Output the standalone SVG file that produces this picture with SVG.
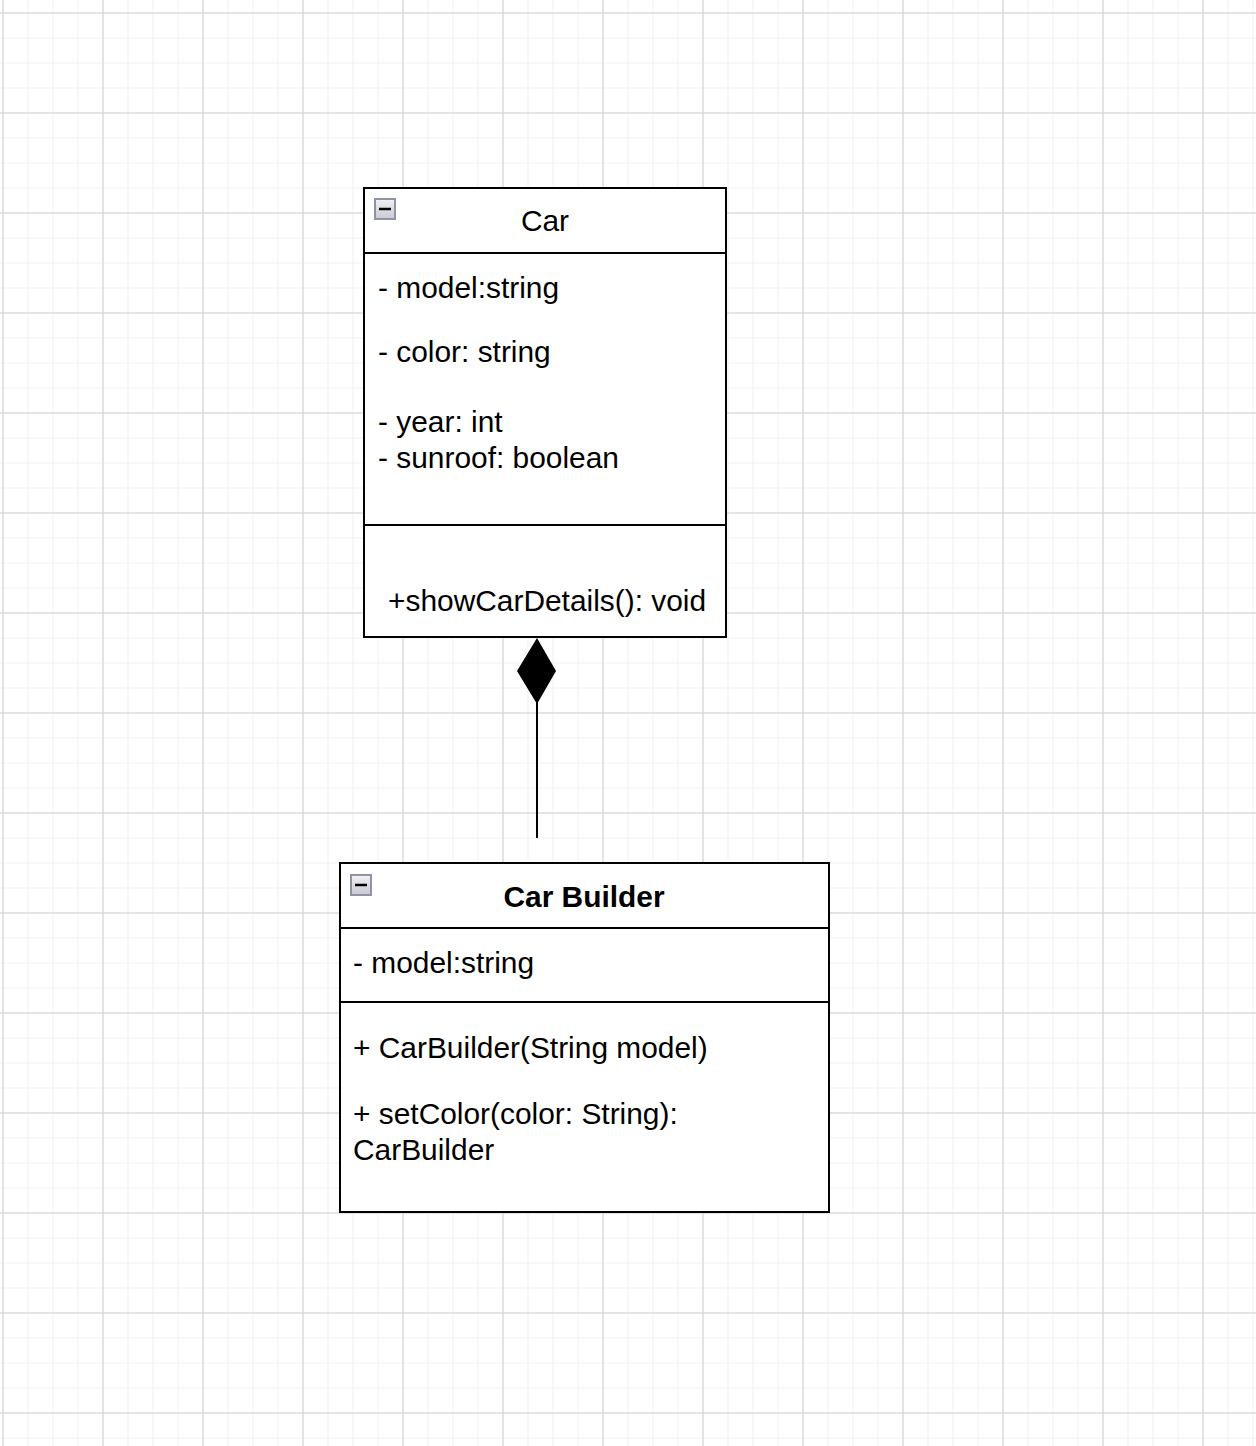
<svg xmlns="http://www.w3.org/2000/svg" width="1256" height="1446" viewBox="0 0 1256 1446">
<style>
.t{font-family:"Liberation Sans",Arial,sans-serif;font-size:29.9px;fill:#000}
.b{font-weight:bold}
.box{fill:#fff;stroke:#000;stroke-width:2}
.div{stroke:#000;stroke-width:2}
.icon{fill:url(#ig);stroke:#8f93a3;stroke-width:2}
</style>
<defs>
<linearGradient id="ig" x1="0" y1="0" x2="0" y2="1"><stop offset="0" stop-color="#f2f2f4"/><stop offset="1" stop-color="#c8cad2"/></linearGradient>
<pattern id="minor" x="2.5" y="12.5" width="25" height="25" patternUnits="userSpaceOnUse">
<path d="M0 0H25M0 0V25" stroke="#f0f0f0" stroke-width="2" fill="none"/>
</pattern>
<pattern id="major" x="2.5" y="12.5" width="100" height="100" patternUnits="userSpaceOnUse">
<path d="M0 0.5H100M0.5 0V100" stroke="#d0d0d0" stroke-width="1" fill="none"/>
</pattern>
</defs>
<rect width="1256" height="1446" fill="#fff"/>
<rect width="1256" height="1446" fill="url(#minor)"/>
<rect width="1256" height="1446" fill="url(#major)"/>

<g id="connectors">
<line x1="537" y1="700" x2="537" y2="838" stroke="#000" stroke-width="2"/>
<polygon points="537,638 556,671 537,704 517,671" fill="#000"/>
</g>

<g id="car">
<rect class="box" x="364" y="188" width="362" height="449"/>
<line class="div" x1="364" y1="253" x2="726" y2="253"/>
<line class="div" x1="364" y1="525" x2="726" y2="525"/>
<rect class="icon" x="375" y="199" width="20" height="20"/>
<line x1="379" y1="209" x2="391" y2="209" stroke="#000" stroke-width="2.5"/>
<text class="t" x="545" y="231" text-anchor="middle">Car</text>
<text class="t" x="378" y="298">- model:string</text>
<text class="t" x="378" y="362">- color: string</text>
<text class="t" x="378" y="432">- year: int</text>
<text class="t" x="378" y="468">- sunroof: boolean</text>
<text class="t" x="388" y="611">+showCarDetails(): void</text>
</g>

<g id="carbuilder">
<rect class="box" x="340" y="863" width="489" height="349"/>
<line class="div" x1="340" y1="928" x2="829" y2="928"/>
<line class="div" x1="340" y1="1002" x2="829" y2="1002"/>
<rect class="icon" x="351" y="875" width="20" height="20"/>
<line x1="355" y1="885" x2="367" y2="885" stroke="#000" stroke-width="2.5"/>
<text class="t b" x="584" y="907" text-anchor="middle">Car Builder</text>
<text class="t" x="353" y="973">- model:string</text>
<text class="t" x="353" y="1058">+ CarBuilder(String model)</text>
<text class="t" x="353" y="1124">+ setColor(color: String):</text>
<text class="t" x="353" y="1160">CarBuilder</text>
</g>
</svg>
